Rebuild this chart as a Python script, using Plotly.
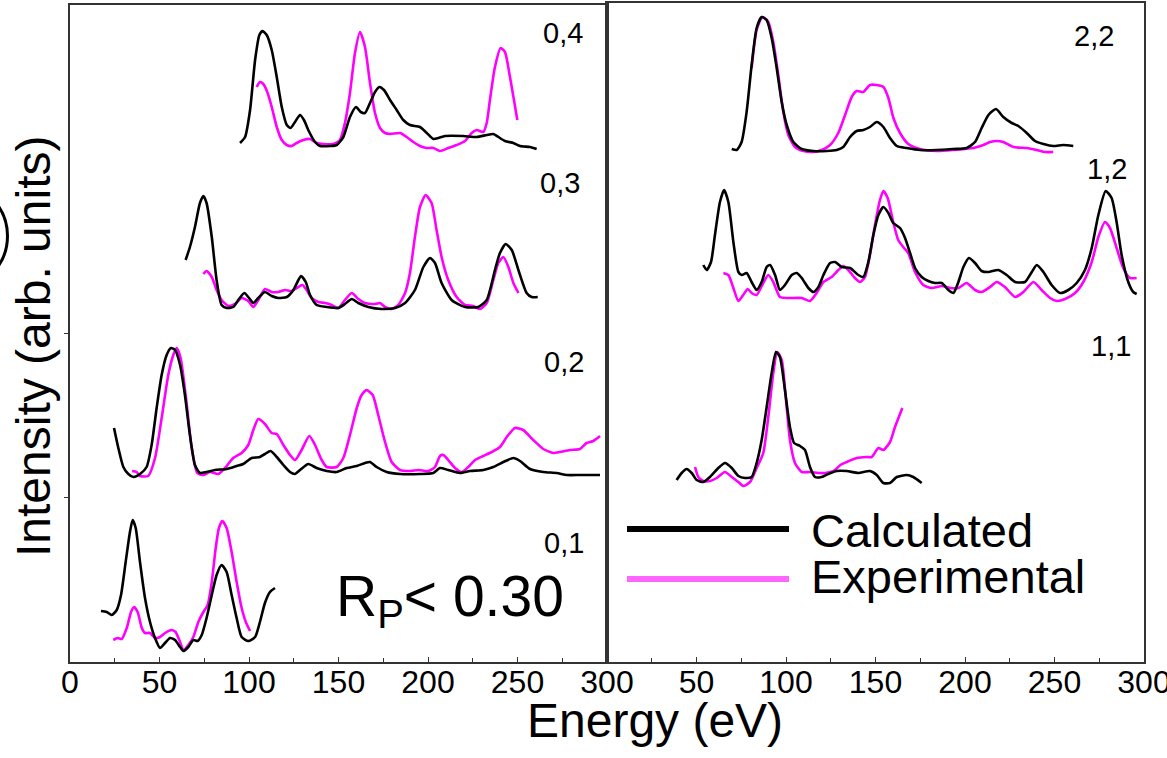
import plotly.graph_objects as go

W, H = 1167, 758

# ---------------- data (energy in eV, intensity in arb. units, stacked) ----------------
# beam (0,4)
e04_calc = [95.0, 97.8, 100.6, 103.4, 105.8, 107.6, 109.9, 112.7, 115.5, 118.3, 121.1, 123.3, 125.7, 128.5, 130.7, 133.1, 136.9, 139.7, 145.3, 149.0, 152.7, 156.4, 159.8, 162.4, 164.8, 167.6, 170.4, 172.8, 175.4, 178.8, 182.5, 186.2, 189.9, 195.5, 199.3, 203.0, 205.8, 209.5, 219.7, 227.2, 232.8, 236.5, 239.3, 243.0, 247.7, 251.4, 257.0, 260.7]
i04_calc = [5.19, 5.25, 5.52, 6.02, 6.27, 6.31, 6.27, 6.12, 5.85, 5.55, 5.37, 5.34, 5.40, 5.47, 5.42, 5.32, 5.20, 5.16, 5.16, 5.17, 5.25, 5.45, 5.55, 5.50, 5.49, 5.59, 5.70, 5.75, 5.72, 5.62, 5.52, 5.42, 5.37, 5.35, 5.29, 5.23, 5.24, 5.26, 5.26, 5.25, 5.27, 5.28, 5.25, 5.21, 5.19, 5.16, 5.15, 5.13]
e04_exp = [104.3, 106.1, 108.0, 110.2, 112.7, 115.5, 118.3, 121.1, 123.8, 126.6, 130.4, 134.1, 137.8, 141.5, 147.1, 150.8, 153.6, 156.4, 159.2, 162.0, 164.8, 167.6, 170.4, 173.2, 176.0, 178.8, 184.4, 188.1, 191.8, 195.5, 199.3, 203.0, 206.7, 211.3, 216.0, 220.7, 224.4, 227.2, 230.9, 232.8, 234.6, 237.4, 240.6, 243.0, 245.8, 249.9]
i04_exp = [5.75, 5.80, 5.78, 5.70, 5.55, 5.35, 5.22, 5.17, 5.16, 5.19, 5.22, 5.23, 5.19, 5.18, 5.18, 5.22, 5.39, 5.69, 6.09, 6.30, 6.15, 5.79, 5.49, 5.34, 5.29, 5.28, 5.29, 5.25, 5.20, 5.16, 5.14, 5.14, 5.11, 5.14, 5.17, 5.21, 5.29, 5.32, 5.30, 5.39, 5.62, 5.95, 6.14, 6.10, 5.85, 5.42]

# beam (0,3)
e03_calc = [64.6, 67.0, 69.8, 72.6, 74.5, 76.3, 79.2, 81.9, 84.7, 87.5, 91.2, 94.0, 97.4, 100.0, 102.4, 105.2, 108.9, 112.7, 116.4, 121.1, 124.8, 127.6, 129.1, 131.7, 134.1, 137.8, 143.4, 149.9, 153.6, 157.4, 161.1, 166.7, 174.1, 181.6, 187.2, 192.7, 197.4, 201.1, 203.9, 207.6, 213.2, 220.7, 228.1, 232.8, 237.4, 240.2, 243.4, 246.8, 250.5, 255.1, 257.9, 261.3]
i03_calc = [4.02, 4.15, 4.35, 4.59, 4.66, 4.59, 4.25, 3.82, 3.57, 3.54, 3.55, 3.62, 3.69, 3.64, 3.59, 3.64, 3.70, 3.66, 3.64, 3.65, 3.72, 3.82, 3.86, 3.80, 3.67, 3.57, 3.55, 3.54, 3.58, 3.63, 3.59, 3.55, 3.53, 3.54, 3.59, 3.72, 3.95, 4.04, 3.99, 3.79, 3.62, 3.55, 3.55, 3.62, 3.92, 4.09, 4.18, 4.12, 3.92, 3.69, 3.65, 3.65]
e03_exp = [74.5, 76.3, 79.2, 81.9, 84.7, 88.4, 92.2, 95.9, 99.6, 102.4, 105.2, 108.9, 112.7, 116.4, 120.1, 123.8, 126.6, 129.8, 132.2, 135.0, 138.7, 142.5, 146.2, 149.9, 153.6, 157.4, 161.1, 164.8, 170.4, 173.2, 176.0, 179.7, 183.4, 187.2, 189.9, 192.7, 195.5, 198.7, 202.0, 204.8, 207.6, 211.3, 216.0, 220.7, 225.3, 229.1, 232.8, 236.5, 239.3, 242.1, 244.9, 247.7, 250.5]
i03_exp = [3.88, 3.91, 3.85, 3.72, 3.62, 3.56, 3.58, 3.64, 3.61, 3.55, 3.62, 3.73, 3.70, 3.70, 3.72, 3.71, 3.74, 3.77, 3.72, 3.64, 3.60, 3.59, 3.57, 3.54, 3.62, 3.69, 3.63, 3.59, 3.58, 3.59, 3.55, 3.53, 3.57, 3.69, 3.89, 4.25, 4.55, 4.67, 4.59, 4.32, 4.05, 3.82, 3.65, 3.57, 3.56, 3.53, 3.59, 3.82, 3.99, 4.05, 3.95, 3.79, 3.69]

# beam (0,2)
e02_calc = [24.6, 27.0, 29.8, 32.6, 35.4, 39.1, 42.8, 45.6, 48.4, 51.2, 54.0, 56.4, 58.7, 61.5, 64.2, 67.0, 69.8, 72.6, 76.3, 81.0, 87.5, 93.1, 96.8, 101.5, 106.1, 108.9, 112.1, 115.5, 119.2, 122.9, 125.7, 128.5, 133.1, 137.8, 143.4, 149.0, 154.6, 160.2, 164.8, 167.6, 171.3, 176.9, 184.4, 195.5, 203.0, 206.7, 211.3, 217.9, 223.5, 230.9, 236.5, 242.1, 247.7, 251.4, 257.0, 264.4, 271.9, 277.5, 284.9, 296.1]
i02_calc = [2.34, 2.14, 1.95, 1.88, 1.85, 1.88, 1.95, 2.17, 2.54, 2.87, 3.07, 3.14, 3.12, 2.97, 2.67, 2.27, 1.97, 1.89, 1.90, 1.92, 1.93, 1.96, 1.98, 2.04, 2.05, 2.08, 2.11, 2.05, 1.97, 1.90, 1.88, 1.92, 1.98, 1.94, 1.91, 1.90, 1.94, 1.96, 1.99, 2.00, 1.95, 1.90, 1.88, 1.88, 1.89, 1.94, 1.92, 1.89, 1.91, 1.92, 1.95, 2.00, 2.04, 2.01, 1.93, 1.90, 1.89, 1.87, 1.87, 1.87]
e02_exp = [34.7, 37.2, 39.1, 43.7, 47.5, 51.2, 54.9, 57.7, 59.6, 61.8, 64.8, 68.0, 71.1, 74.5, 78.2, 82.9, 86.6, 91.2, 95.9, 99.6, 102.4, 105.2, 108.9, 112.7, 115.5, 119.2, 122.9, 125.7, 129.4, 133.7, 136.9, 140.6, 143.4, 149.0, 152.7, 156.4, 160.2, 162.9, 165.7, 169.1, 172.2, 176.0, 179.7, 184.4, 189.9, 194.6, 200.2, 203.9, 206.7, 208.6, 211.3, 215.1, 218.8, 222.5, 226.3, 230.9, 235.6, 240.2, 244.0, 248.6, 253.2, 258.8, 264.4, 270.0, 273.7, 279.3, 284.9, 288.6, 292.3, 296.1]
i02_exp = [1.91, 1.90, 1.86, 1.86, 2.04, 2.44, 2.87, 3.07, 3.14, 3.04, 2.64, 2.14, 1.89, 1.87, 1.90, 1.88, 1.94, 2.04, 2.09, 2.17, 2.32, 2.43, 2.38, 2.29, 2.28, 2.17, 2.07, 2.02, 2.12, 2.26, 2.17, 2.02, 1.95, 1.95, 2.04, 2.27, 2.54, 2.67, 2.72, 2.67, 2.47, 2.20, 2.00, 1.92, 1.91, 1.92, 1.91, 1.95, 2.06, 2.07, 2.02, 1.94, 1.90, 1.95, 2.02, 2.06, 2.10, 2.15, 2.25, 2.34, 2.32, 2.22, 2.13, 2.09, 2.10, 2.12, 2.13, 2.19, 2.21, 2.26]

# beam (0,1)
e01_calc = [17.3, 20.5, 23.3, 26.1, 28.5, 31.1, 33.5, 35.0, 36.7, 39.1, 41.9, 44.7, 47.5, 50.3, 53.1, 55.9, 58.7, 61.5, 63.3, 66.1, 68.9, 71.3, 73.6, 76.3, 79.2, 81.9, 84.7, 87.5, 90.3, 93.1, 95.9, 99.6, 103.4, 106.1, 108.9, 111.7, 114.5]
i01_calc = [0.51, 0.50, 0.47, 0.52, 0.67, 1.00, 1.30, 1.42, 1.34, 1.00, 0.64, 0.40, 0.24, 0.14, 0.19, 0.24, 0.22, 0.15, 0.11, 0.15, 0.22, 0.21, 0.27, 0.44, 0.67, 0.87, 0.97, 0.90, 0.67, 0.44, 0.25, 0.21, 0.25, 0.40, 0.59, 0.70, 0.74]
e01_exp = [24.2, 26.6, 28.9, 31.7, 34.1, 35.8, 37.8, 40.1, 41.9, 44.7, 47.5, 50.3, 53.1, 56.8, 59.0, 61.5, 63.3, 66.1, 68.9, 71.7, 74.5, 76.9, 79.2, 81.4, 83.2, 85.1, 87.5, 90.3, 93.1, 95.9, 98.2, 100.6]
i01_exp = [0.22, 0.24, 0.23, 0.34, 0.50, 0.55, 0.50, 0.34, 0.29, 0.29, 0.24, 0.25, 0.29, 0.32, 0.30, 0.20, 0.12, 0.17, 0.25, 0.40, 0.50, 0.57, 0.80, 1.14, 1.34, 1.41, 1.34, 1.10, 0.80, 0.54, 0.40, 0.31]

# beam (2,2)
e22_calc = [69.7, 72.5, 75.2, 78.0, 80.8, 83.6, 86.4, 89.2, 92.0, 94.8, 97.6, 100.4, 104.1, 108.8, 115.3, 122.7, 128.3, 132.0, 135.8, 139.5, 143.2, 146.9, 150.7, 154.4, 158.1, 161.9, 167.4, 174.9, 184.2, 193.5, 201.0, 205.6, 209.3, 213.1, 217.3, 221.4, 226.1, 229.8, 234.5, 239.1, 243.8, 249.3, 254.9, 260.5]
i22_calc = [5.13, 5.12, 5.20, 5.50, 5.97, 6.34, 6.45, 6.42, 6.24, 5.94, 5.60, 5.37, 5.20, 5.13, 5.11, 5.11, 5.12, 5.15, 5.25, 5.31, 5.32, 5.35, 5.40, 5.35, 5.24, 5.16, 5.14, 5.12, 5.12, 5.13, 5.14, 5.20, 5.34, 5.47, 5.53, 5.45, 5.39, 5.36, 5.29, 5.21, 5.18, 5.16, 5.17, 5.16]
e22_exp = [80.8, 83.6, 86.8, 90.1, 92.9, 95.7, 98.5, 101.3, 105.0, 109.7, 115.3, 119.9, 124.6, 129.2, 133.0, 136.7, 139.5, 143.2, 146.9, 150.7, 154.4, 157.2, 160.0, 163.7, 168.3, 174.9, 184.2, 193.5, 204.7, 210.3, 214.0, 217.7, 221.4, 227.0, 234.5, 240.1, 244.7, 249.3]
i22_exp = [5.94, 6.32, 6.45, 6.40, 6.20, 5.87, 5.50, 5.27, 5.15, 5.11, 5.10, 5.12, 5.17, 5.29, 5.47, 5.65, 5.71, 5.70, 5.77, 5.77, 5.75, 5.64, 5.44, 5.29, 5.18, 5.13, 5.11, 5.12, 5.14, 5.17, 5.20, 5.21, 5.20, 5.15, 5.14, 5.12, 5.10, 5.10]

# beam (1,2)
e12_calc = [53.8, 55.7, 58.1, 60.3, 63.1, 65.4, 67.8, 70.6, 73.4, 75.3, 78.0, 80.8, 83.6, 86.4, 89.2, 91.1, 93.9, 96.6, 99.4, 103.2, 106.0, 108.8, 112.5, 115.3, 118.1, 120.9, 124.6, 127.4, 131.1, 135.8, 140.4, 143.2, 146.0, 148.8, 151.6, 154.4, 157.2, 159.9, 163.7, 166.5, 169.3, 172.1, 175.8, 179.5, 183.2, 187.0, 190.7, 193.5, 196.3, 199.1, 202.2, 205.6, 209.3, 213.1, 218.7, 223.3, 228.0, 233.5, 237.3, 240.1, 243.8, 248.4, 253.1, 257.7, 262.4, 267.0, 270.8, 274.5, 278.6, 281.9, 284.7, 287.5, 291.2, 294.0, 295.9]
i12_calc = [3.97, 3.92, 4.00, 4.27, 4.60, 4.72, 4.60, 4.20, 3.90, 3.87, 3.89, 3.80, 3.72, 3.80, 3.95, 3.97, 3.87, 3.72, 3.77, 3.87, 3.89, 3.84, 3.74, 3.70, 3.75, 3.87, 3.99, 4.00, 3.95, 3.94, 3.87, 3.85, 4.00, 4.27, 4.47, 4.55, 4.49, 4.39, 4.34, 4.24, 4.09, 3.94, 3.85, 3.81, 3.79, 3.79, 3.72, 3.69, 3.80, 3.95, 4.04, 3.99, 3.91, 3.90, 3.92, 3.87, 3.80, 3.80, 3.90, 3.97, 3.90, 3.77, 3.69, 3.72, 3.79, 3.92, 4.14, 4.47, 4.71, 4.64, 4.40, 4.07, 3.80, 3.70, 3.68]
e12_exp = [65.0, 67.8, 70.6, 73.4, 76.1, 78.6, 80.8, 83.6, 87.3, 90.1, 92.9, 96.6, 101.3, 108.8, 113.4, 117.1, 120.9, 125.5, 129.2, 132.0, 134.8, 138.5, 141.3, 144.1, 146.9, 149.7, 152.5, 154.4, 156.8, 159.9, 162.7, 165.5, 168.3, 172.1, 176.7, 181.4, 187.0, 191.6, 196.3, 200.9, 205.6, 209.3, 214.0, 217.7, 222.3, 228.0, 232.6, 238.2, 242.8, 247.5, 251.2, 255.9, 261.5, 266.1, 270.8, 274.5, 278.2, 281.0, 284.7, 288.4, 292.2, 295.9]
i12_exp = [3.89, 3.87, 3.74, 3.61, 3.67, 3.73, 3.69, 3.67, 3.79, 3.87, 3.80, 3.65, 3.64, 3.64, 3.61, 3.69, 3.80, 3.85, 3.92, 3.96, 3.92, 3.84, 3.80, 3.85, 4.07, 4.37, 4.62, 4.71, 4.64, 4.40, 4.22, 4.15, 4.09, 3.90, 3.77, 3.74, 3.76, 3.74, 3.74, 3.79, 3.72, 3.70, 3.75, 3.80, 3.75, 3.65, 3.70, 3.80, 3.72, 3.64, 3.61, 3.63, 3.69, 3.80, 4.00, 4.25, 4.40, 4.34, 4.14, 3.94, 3.84, 3.84]

# beam (1,1)
e11_calc = [38.9, 41.7, 44.5, 47.3, 50.1, 53.8, 57.5, 62.2, 65.9, 69.7, 73.4, 77.1, 80.8, 83.6, 86.4, 89.2, 92.0, 94.4, 96.6, 99.4, 102.2, 104.5, 107.8, 110.6, 113.4, 116.2, 119.9, 123.6, 128.3, 133.9, 140.4, 146.9, 150.7, 154.4, 158.1, 161.9, 167.4, 171.1, 175.8]
i11_calc = [1.82, 1.89, 1.93, 1.89, 1.82, 1.80, 1.85, 1.94, 1.99, 1.94, 1.86, 1.84, 1.85, 1.99, 2.22, 2.55, 2.89, 3.10, 3.05, 2.72, 2.35, 2.19, 2.16, 2.12, 1.95, 1.85, 1.85, 1.88, 1.91, 1.91, 1.89, 1.91, 1.87, 1.79, 1.79, 1.85, 1.87, 1.85, 1.79]
e11_exp = [49.2, 51.0, 53.8, 57.5, 61.3, 65.9, 69.7, 73.4, 76.1, 79.9, 83.6, 87.3, 90.1, 92.9, 95.1, 97.6, 100.0, 102.2, 105.0, 108.8, 113.4, 118.1, 121.8, 126.6, 130.4, 133.9, 139.5, 145.1, 147.9, 151.6, 154.4, 158.1, 160.9, 165.0]
i11_exp = [1.95, 1.85, 1.81, 1.81, 1.84, 1.90, 1.85, 1.80, 1.76, 1.80, 1.94, 2.09, 2.45, 2.89, 3.10, 3.02, 2.62, 2.22, 1.99, 1.90, 1.90, 1.89, 1.89, 1.91, 1.97, 2.00, 2.04, 2.05, 2.05, 2.14, 2.12, 2.20, 2.35, 2.54]

left_labels = ["0,4", "0,3", "0,2", "0,1"]
right_labels = ["2,2", "1,2", "1,1"]
legend_names = ["Calculated", "Experimental"]
x_ticks_left = [0, 50, 100, 150, 200, 250, 300]
x_ticks_right = [50, 100, 150, 200, 250, 300]
x_minor = [25, 75, 125, 175, 225, 275]

# ---------------- styling ----------------
BLACK = "#000000"
MAG = "#ff00ff"
FONT = "Liberation Sans, Arial, sans-serif"

fig = go.Figure()

left_sets = [(e04_calc, i04_calc, e04_exp, i04_exp),
             (e03_calc, i03_calc, e03_exp, i03_exp),
             (e02_calc, i02_calc, e02_exp, i02_exp),
             (e01_calc, i01_calc, e01_exp, i01_exp)]
right_sets = [(e22_calc, i22_calc, e22_exp, i22_exp),
              (e12_calc, i12_calc, e12_exp, i12_exp),
              (e11_calc, i11_calc, e11_exp, i11_exp)]

def add_pair(ec, ic, ee, ie, xa, ya):
    fig.add_trace(go.Scatter(x=ee, y=ie, mode="lines", xaxis=xa, yaxis=ya,
                             line=dict(color=MAG, width=2.6, shape="spline", smoothing=0.6),
                             showlegend=False, hoverinfo="skip"))
    fig.add_trace(go.Scatter(x=ec, y=ic, mode="lines", xaxis=xa, yaxis=ya,
                             line=dict(color=BLACK, width=2.6, shape="spline", smoothing=0.6),
                             showlegend=False, hoverinfo="skip"))

for s in left_sets:
    add_pair(*s, "x", "y")
for s in right_sets:
    add_pair(*s, "x2", "y2")

def px_x(p):
    return p / W

def px_y(p):
    return 1 - p / H

axis_common = dict(showline=True, linecolor="#333333", linewidth=1.5, mirror=True,
                   showgrid=False, zeroline=False, automargin=False)
tickfont = dict(size=32, family=FONT, color="black")

fig.update_layout(
    width=W, height=H,
    margin=dict(l=0, r=0, t=0, b=0, autoexpand=False),
    paper_bgcolor="white", plot_bgcolor="white",
    showlegend=False,
    font=dict(family=FONT, color="black"),
    xaxis=dict(domain=[px_x(70), px_x(607)], range=[0, 300], anchor="y",
               tickvals=x_ticks_left, ticks="inside", ticklen=5, tickcolor="#333333",
               minor=dict(tickvals=x_minor, ticks="inside", ticklen=4, tickcolor="#333333"),
               tickfont=tickfont, ticklabeloverflow="allow", ticklabelstandoff=-9,
               **axis_common),
    yaxis=dict(domain=[px_y(662), px_y(5)], range=[0, 6.57], anchor="x",
               tickvals=[1.65, 3.29], ticks="outside", ticklen=4, tickcolor="#333333",
               showticklabels=False, **axis_common),
    xaxis2=dict(domain=[px_x(607), px_x(1144)], range=[0, 300], anchor="y2",
                tickvals=x_ticks_right, ticks="inside", ticklen=5, tickcolor="#333333",
                minor=dict(tickvals=x_minor, ticks="inside", ticklen=4, tickcolor="#333333"),
                tickfont=tickfont, ticklabeloverflow="allow", ticklabelstandoff=-9,
                **axis_common),
    yaxis2=dict(domain=[px_y(662), px_y(3)], range=[0, 6.59], anchor="x2",
                showticklabels=False, ticks="", **axis_common),
)

annotations = []
# panel labels
left_label_pos = [(563, 33), (560, 183), (564, 362), (564, 543)]
right_label_pos = [(1094, 36), (1107, 169), (1111, 346)]
for txt, (x, y) in zip(left_labels + right_labels, left_label_pos + right_label_pos):
    annotations.append(dict(text=txt, x=px_x(x), y=px_y(y), xref="paper", yref="paper",
                            xanchor="center", yanchor="middle", showarrow=False,
                            font=dict(size=29, family=FONT, color="black")))
# axis titles
annotations.append(dict(text="Energy (eV)", x=px_x(655), y=px_y(720), xref="paper", yref="paper",
                        xanchor="center", yanchor="middle", showarrow=False,
                        font=dict(size=48, family=FONT, color="black")))
annotations.append(dict(text="Intensity (arb. units)", x=px_x(33), y=px_y(346), xref="paper", yref="paper",
                        xanchor="center", yanchor="middle", showarrow=False, textangle=-90,
                        font=dict(size=48, family=FONT, color="black")))
# R-factor
annotations.append(dict(text="R<sub>P</sub>< 0.30", x=px_x(334), y=px_y(600), xref="paper", yref="paper",
                        xanchor="left", yanchor="middle", showarrow=False,
                        font=dict(size=57, family=FONT, color="black")))
# legend text
annotations.append(dict(text=legend_names[0], x=px_x(809), y=px_y(530), xref="paper", yref="paper",
                        xanchor="left", yanchor="middle", showarrow=False,
                        font=dict(size=47, family=FONT, color="black")))
annotations.append(dict(text=legend_names[1], x=px_x(809), y=px_y(576), xref="paper", yref="paper",
                        xanchor="left", yanchor="middle", showarrow=False,
                        font=dict(size=47, family=FONT, color="black")))

shapes = [
    dict(type="line", xref="paper", yref="paper", x0=px_x(627), x1=px_x(789), y0=px_y(529), y1=px_y(529),
         line=dict(color=BLACK, width=6)),
    dict(type="line", xref="paper", yref="paper", x0=px_x(627), x1=px_x(789), y0=px_y(579), y1=px_y(579),
         line=dict(color="#ff66ff", width=6)),
    # partially visible circled panel marker at the left edge
    dict(type="circle", xref="paper", yref="paper", x0=px_x(-99.5), x1=px_x(7.5),
         y0=px_y(289.5), y1=px_y(182.5), line=dict(color=BLACK, width=3)),
]

fig.update_layout(annotations=annotations, shapes=shapes)

fig.write_html("out.html")
